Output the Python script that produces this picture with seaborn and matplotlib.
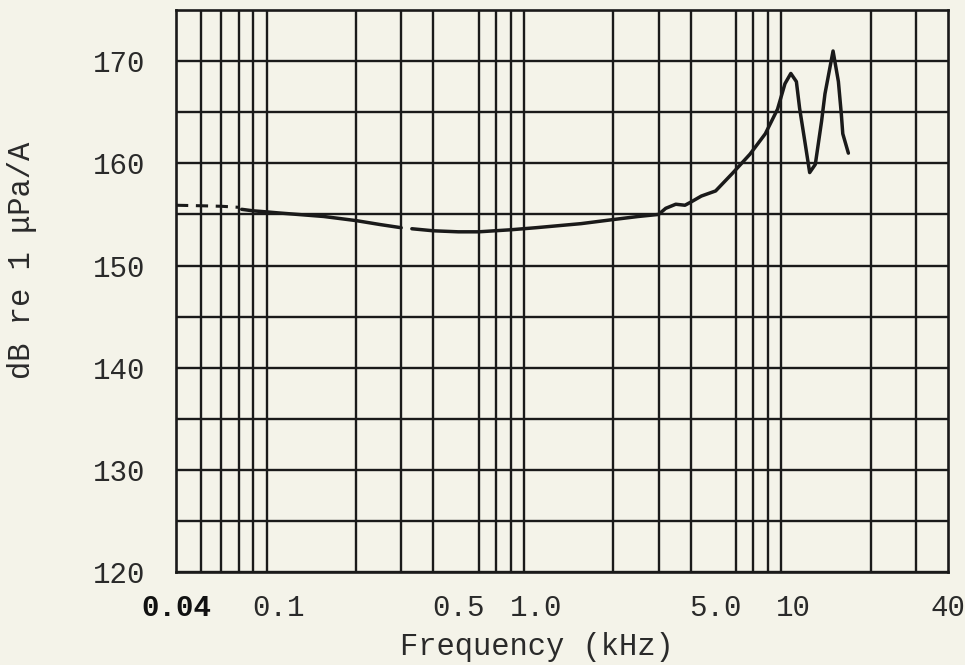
import numpy as np
import pandas as pd
import matplotlib
matplotlib.use("Agg")
import matplotlib.pyplot as plt
import seaborn as sns
from matplotlib.ticker import FixedLocator, FixedFormatter, NullFormatter

# ---- data ----
# dashed low-frequency extension
dash_freq = [0.04, 0.05, 0.06, 0.07]
dash_level = [155.9, 155.85, 155.8, 155.7]

# solid curve, first piece
seg1_freq = [0.072, 0.08, 0.09, 0.1, 0.15, 0.2, 0.25, 0.30]
seg1_level = [155.5, 155.35, 155.25, 155.15, 154.8, 154.4, 154.0, 153.7]

# solid curve, second piece
seg2_freq = [0.33, 0.4, 0.5, 0.6, 0.8, 1.0, 1.5, 2.0, 2.5, 3.0, 3.2, 3.5, 3.8,
             4.0, 4.4, 5.0, 5.8, 6.8, 7.8, 8.7, 9.3, 9.8, 10.3, 10.6, 11.1,
             11.6, 12.2, 12.9, 13.3, 14.3, 15.0, 15.4, 15.6, 16.4]
seg2_level = [153.6, 153.4, 153.3, 153.3, 153.5, 153.7, 154.1, 154.5, 154.8,
              155.0, 155.6, 156.0, 155.9, 156.2, 156.8, 157.3, 159.0, 160.9,
              162.9, 165.3, 167.8, 168.8, 168.0, 165.4, 162.2, 159.1, 159.9,
              164.1, 166.8, 171.0, 168.0, 164.8, 162.9, 161.0]

x_ticks = [0.04, 0.1, 0.5, 1.0, 5.0, 10, 40]
x_tick_labels = ["0.04", "0.1", "0.5", "1.0", "5.0", "10", "40"]
x_grid = [0.05, 0.06, 0.07, 0.08, 0.09,
          0.1, 0.2, 0.3, 0.4, 0.5, 0.6, 0.7, 0.8, 0.9,
          1, 2, 3, 4, 5, 6, 7, 8, 9,
          10, 20, 30]
y_ticks = [120, 130, 140, 150, 160, 170]
y_grid = [125, 135, 145, 155, 165]

xlabel = "Frequency (kHz)"
ylabel = "dB re 1 \u03bcPa/A"

# ---- style ----
sns.set_theme(style="white")
plt.rcParams['font.family'] = ['Liberation Mono', 'DejaVu Sans Mono', 'DejaVu Sans']
bg = "#f4f3e9"
ink = "#1a1a1a"

fig = plt.figure(figsize=(9.65, 6.65), dpi=100, facecolor=bg)
ax = fig.add_axes([0.1824, 0.1398, 0.800, 0.845])
ax.set_facecolor(bg)

d0 = pd.DataFrame({"freq": dash_freq, "level": dash_level})
d1 = pd.DataFrame({"freq": seg1_freq, "level": seg1_level})
d2 = pd.DataFrame({"freq": seg2_freq, "level": seg2_level})

sns.lineplot(data=d0, x="freq", y="level", ax=ax, color=ink, lw=2.2,
             linestyle=(0, (4, 2.5)), zorder=5)
sns.lineplot(data=d1, x="freq", y="level", ax=ax, color=ink, lw=2.5, zorder=5)
sns.lineplot(data=d2, x="freq", y="level", ax=ax, color=ink, lw=2.5, zorder=5)

ax.set_xscale("log")
ax.set_xlim(0.04, 40)
ax.set_ylim(120, 175)

ax.xaxis.set_major_locator(FixedLocator(x_ticks))
ax.xaxis.set_major_formatter(FixedFormatter(x_tick_labels))
ax.xaxis.set_minor_locator(FixedLocator(x_grid))
ax.xaxis.set_minor_formatter(NullFormatter())
ax.yaxis.set_major_locator(FixedLocator(y_ticks))
ax.yaxis.set_minor_locator(FixedLocator(y_grid))
ax.yaxis.set_minor_formatter(NullFormatter())

ax.grid(False)
ax.grid(axis="x", which="minor", color=ink, lw=1.7)
ax.grid(axis="y", which="both", color=ink, lw=1.7)
ax.set_axisbelow(True)

for s in ax.spines.values():
    s.set_visible(True)
    s.set_color(ink)
    s.set_linewidth(1.9)

ax.tick_params(axis="both", which="both", length=0)
ax.tick_params(axis="y", labelsize=21, pad=22, labelcolor="#2a2a2a")
ax.tick_params(axis="x", labelsize=21, pad=16, labelcolor="#2a2a2a")
for lab in ax.get_xticklabels():
    if lab.get_text() == "0.04":
        lab.set_fontweight("bold")
        lab.set_color("#111111")

ax.set_xlabel(xlabel, fontsize=22, color="#2a2a2a")
ax.set_ylabel(ylabel, fontsize=22, color="#2a2a2a")
ax.xaxis.label.set_verticalalignment("center")
ax.yaxis.label.set_verticalalignment("center")
ax.yaxis.label.set_horizontalalignment("center")
ax.xaxis.set_label_coords(0.468, -0.133)
ax.yaxis.set_label_coords(-0.2, 0.555)

fig.savefig("out.png", dpi=100, facecolor=bg)
